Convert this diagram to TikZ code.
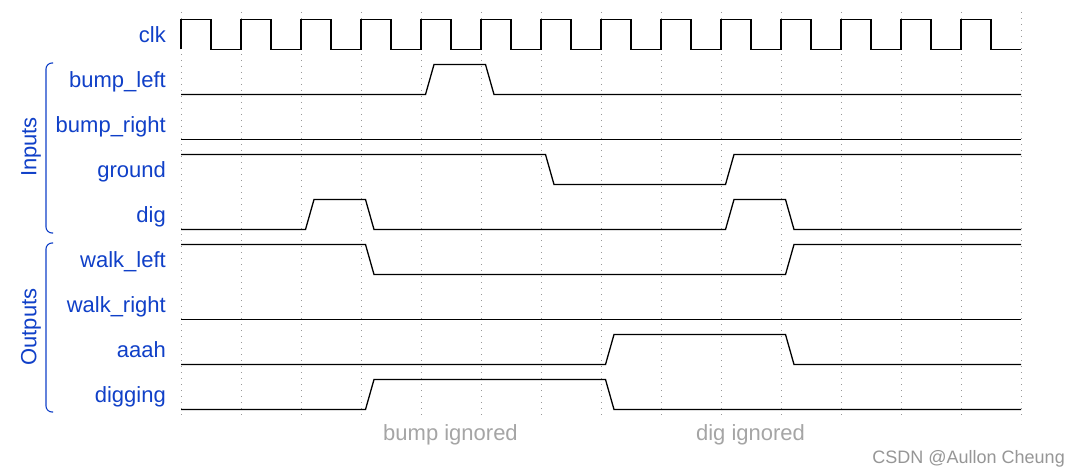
\documentclass[tikz,border=0pt]{standalone}
\usepackage{fontspec}
\setmainfont{Liberation Sans}
\definecolor{lblblue}{RGB}{16,64,200}
\definecolor{notegray}{RGB}{165,165,165}
\definecolor{markgray}{RGB}{150,150,150}
\begin{document}
\begin{tikzpicture}[x=1pt,y=-1pt,
  lbl/.style={text=lblblue, font=\fontsize{22}{24}\selectfont, anchor=base east, inner sep=0pt},
  grp/.style={text=lblblue, font=\fontsize{22}{24}\selectfont, rotate=90, inner sep=0pt, anchor=center},
  note/.style={text=notegray, font=\fontsize{22}{24}\selectfont, anchor=base, inner sep=0pt},
  wave/.style={line width=1.3pt, black, line join=miter},
  clkwave/.style={line width=1.6pt, black, line join=miter},
  gridline/.style={black!40, line width=0.8pt, dash pattern=on 0.8pt off 5.2pt},
  bracket/.style={lblblue, line width=1.1pt, rounded corners=6pt}]
\fill[white] (0,0) rectangle (1081,476);
\useasboundingbox (0,0) rectangle (1081,476);
% grid
\foreach \k in {0,...,14}{
  \draw[gridline] ({181+60*\k},12) -- ({181+60*\k},415);
}
% clock
\draw[clkwave] (181,49.5) \foreach \k in {0,...,13}{ -- ({181+60*\k},19.5) -- ({211+60*\k},19.5) -- ({211+60*\k},49.5) -- ({241+60*\k},49.5)};
% signals
\draw[wave] (181,94.5)--(425.5,94.5)--(434,64.5)--(485.5,64.5)--(494,94.5)--(1021,94.5);
\draw[wave] (181,139.5)--(1021,139.5);
\draw[wave] (181,154.5)--(545.5,154.5)--(554,184.5)--(725.5,184.5)--(734,154.5)--(1021,154.5);
\draw[wave] (181,229.5)--(305.5,229.5)--(314,199.5)--(365.5,199.5)--(374,229.5)--(725.5,229.5)--(734,199.5)--(785.5,199.5)--(794,229.5)--(1021,229.5);
\draw[wave] (181,244.5)--(365.5,244.5)--(374,274.5)--(785.5,274.5)--(794,244.5)--(1021,244.5);
\draw[wave] (181,319.5)--(1021,319.5);
\draw[wave] (181,364.5)--(605.5,364.5)--(614,334.5)--(785.5,334.5)--(794,364.5)--(1021,364.5);
\draw[wave] (181,409.5)--(365.5,409.5)--(374,379.5)--(605.5,379.5)--(614,409.5)--(1021,409.5);
% labels
\node[lbl] (lclk) at (166,42.5) {clk};
\node[lbl] (lbl1) at (166,87.5) {bump\_left};
\node[lbl] (lbl2) at (166,132.5) {bump\_right};
\node[lbl] (lbl3) at (166,177.5) {ground};
\node[lbl] (lbl4) at (166,222.5) {dig};
\node[lbl] (lbl5) at (166,267.5) {walk\_left};
\node[lbl] (lbl6) at (166,312.5) {walk\_right};
\node[lbl] (lbl7) at (166,357.5) {aaah};
\node[lbl] (lbl8) at (166,402.5) {digging};
% groups
\draw[bracket] (53,63) -- (46,63) -- (46,233) -- (53,233);
\draw[bracket] (53,243) -- (46,243) -- (46,412) -- (53,412);
\node[grp] (ginputs) at (31,147) {Inputs};
\node[grp] (goutputs) at (31,327) {Outputs};
% notes
\node[note] (n1) at (450.5,440) {bump ignored};
\node[note] (n2) at (750.5,440) {dig ignored};
\node[text=markgray, font=\fontsize{18}{20}\selectfont, anchor=base east, inner sep=0pt] (wm) at (1065,463) {CSDN @Aullon Cheung};
\end{tikzpicture}
\end{document}
